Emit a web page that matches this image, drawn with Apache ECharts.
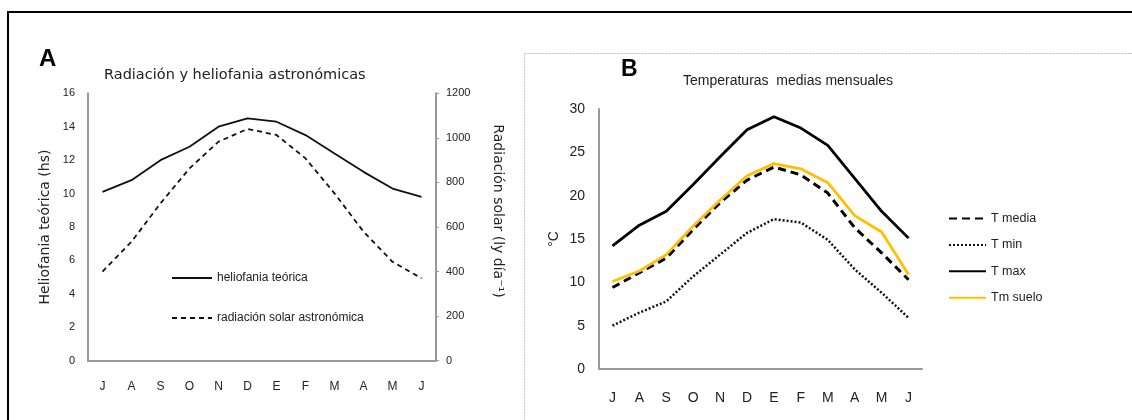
<!DOCTYPE html>
<html>
<head>
<meta charset="utf-8">
<script src="https://cdn.jsdelivr.net/npm/echarts@6/dist/echarts.min.js"></script>
<style>
  html, body { margin: 0; padding: 0; background: #fff; }
  #chart { width: 1132px; height: 420px; }
</style>
</head>
<body>
<div id="chart"></div>
<script>
// meses (julio a junio)
const months = ['J', 'A', 'S', 'O', 'N', 'D', 'E', 'F', 'M', 'A', 'M', 'J']

// panel A
const helioTicks = [0, 2, 4, 6, 8, 10, 12, 14, 16]
const radTicks = [0, 200, 400, 600, 800, 1000, 1200]
const heliofania = [10.1, 10.8, 12.0, 12.8, 14.0, 14.5, 14.3, 13.5, 12.4, 11.3, 10.3, 9.8]
const radiacion = [400, 534, 706, 863, 983, 1040, 1013, 908, 751, 579, 444, 370]

// panel B
const tempTicks = [0, 5, 10, 15, 20, 25, 30]
const tMedia = [9.4, 11.1, 12.8, 16.1, 19.2, 21.8, 23.3, 22.4, 20.3, 16.3, 13.4, 10.3]
const tMin = [5.0, 6.5, 7.8, 10.7, 13.2, 15.7, 17.3, 16.9, 14.9, 11.5, 8.8, 5.9]
const tMax = [14.2, 16.6, 18.2, 21.3, 24.5, 27.6, 29.1, 27.8, 25.8, 22.0, 18.2, 15.1]
const tSuelo = [10.1, 11.3, 13.2, 16.5, 19.5, 22.3, 23.7, 23.1, 21.5, 17.7, 15.8, 10.9]

const narrow = "'Liberation Sans Narrow', 'Liberation Sans', Arial, sans-serif"
const arial = "'Liberation Sans', Arial, sans-serif"
const dejavu = "'DejaVu Sans', sans-serif"

let chart = echarts.init(document.getElementById('chart'))

let option = {
  animation: false,
  backgroundColor: '#fff',
  graphic: [
    { // marco exterior
      type: 'rect',
      shape: { x: 8, y: 12, width: 1200, height: 500 },
      style: { fill: 'none', stroke: '#000', lineWidth: 2 }
    },
    { // marco panel B
      type: 'rect',
      shape: { x: 524.5, y: 53.5, width: 700, height: 500 },
      style: { fill: 'none', stroke: '#bdbdbd', lineWidth: 1, lineDash: [2, 1] }
    },
    {
      type: 'text', left: 39, top: 47,
      style: { text: 'A', font: 'bold 24px ' + arial, fill: '#000' }
    },
    {
      type: 'text', left: 621, top: 58,
      style: { text: 'B', font: 'bold 23px ' + arial, fill: '#000' }
    }
  ],
  title: [
    {
      text: 'Radiación y heliofania astronómicas',
      left: 99, top: 63,
      textStyle: { fontSize: 14.5, fontWeight: 'normal', color: '#222', fontFamily: dejavu }
    },
    {
      text: 'Temperaturas  medias mensuales',
      left: 678, top: 69,
      textStyle: { fontSize: 14, fontWeight: 'normal', color: '#222', fontFamily: arial }
    }
  ],
  legend: [
    {
      orient: 'vertical',
      left: 166, top: 267,
      itemWidth: 40, itemHeight: 10, itemGap: 28,
      itemStyle: { opacity: 0 },
      data: ['heliofania teórica', 'radiación solar astronómica'],
      textStyle: { fontSize: 12, color: '#222', fontFamily: narrow }
    },
    {
      orient: 'vertical',
      left: 943, top: 207,
      itemWidth: 37, itemHeight: 12, itemGap: 13.4,
      itemStyle: { opacity: 0 },
      data: ['T media', 'T min', 'T max', 'Tm suelo'],
      textStyle: { fontSize: 12.5, color: '#222', fontFamily: arial }
    }
  ],
  grid: [
    { left: 88, top: 93.3, right: 696, bottom: 59.3 },
    { left: 599, top: 109, right: 210, bottom: 51 }
  ],
  xAxis: [
    {
      type: 'category', gridIndex: 0, data: months, boundaryGap: true,
      axisLine: { lineStyle: { color: '#999', width: 2 } },
      axisTick: { show: false },
      axisLabel: { margin: 20, fontSize: 12, color: '#222', fontFamily: arial, interval: 0 }
    },
    {
      type: 'category', gridIndex: 1, data: months, boundaryGap: true,
      axisLine: { lineStyle: { color: '#999', width: 2 } },
      axisTick: { show: false },
      axisLabel: { margin: 22, fontSize: 14, color: '#222', fontFamily: arial, interval: 0 }
    }
  ],
  yAxis: [
    {
      type: 'value', gridIndex: 0,
      min: helioTicks[0], max: helioTicks[helioTicks.length - 1], interval: 2,
      name: 'Heliofania teórica (hs)', nameLocation: 'middle', nameGap: 36,
      nameTextStyle: { fontSize: 14, color: '#222', fontFamily: dejavu },
      axisLine: { show: true, lineStyle: { color: '#999', width: 2 } },
      axisTick: { show: false },
      splitLine: { show: false },
      axisLabel: { margin: 13, fontSize: 11, color: '#222', fontFamily: narrow }
    },
    {
      type: 'value', gridIndex: 0, position: 'right',
      min: radTicks[0], max: radTicks[radTicks.length - 1], interval: 200,
      name: 'Radiación solar (ly día⁻¹)', nameLocation: 'middle', nameGap: 55, nameRotate: -90,
      nameTextStyle: { fontSize: 14, color: '#222', fontFamily: dejavu, padding: [0, 32, 0, 0] },
      axisLine: { show: true, lineStyle: { color: '#999', width: 2 } },
      axisTick: { show: true, length: 3, lineStyle: { color: '#999' } },
      splitLine: { show: false },
      axisLabel: { margin: 10, fontSize: 11, color: '#222', fontFamily: narrow, formatter: v => String(v) }
    },
    {
      type: 'value', gridIndex: 1,
      min: tempTicks[0], max: tempTicks[tempTicks.length - 1], interval: 5,
      name: '°C', nameLocation: 'middle', nameGap: 38,
      nameTextStyle: { fontSize: 14, color: '#222', fontFamily: arial },
      axisLine: { show: true, lineStyle: { color: '#999', width: 2 } },
      axisTick: { show: false },
      splitLine: { show: false },
      axisLabel: { margin: 14, fontSize: 14, color: '#222', fontFamily: arial }
    }
  ],
  series: [
    {
      name: 'heliofania teórica', type: 'line', xAxisIndex: 0, yAxisIndex: 0,
      data: heliofania, symbol: 'none',
      lineStyle: { color: '#111', width: 1.8, type: 'solid' }, itemStyle: { color: '#111' }
    },
    {
      name: 'radiación solar astronómica', type: 'line', xAxisIndex: 0, yAxisIndex: 1,
      data: radiacion, symbol: 'none',
      lineStyle: { color: '#111', width: 1.8, type: [5, 4] }, itemStyle: { color: '#111' }
    },
    {
      name: 'T media', type: 'line', xAxisIndex: 1, yAxisIndex: 2,
      data: tMedia, symbol: 'none',
      lineStyle: { color: '#000', width: 3, type: [8, 5] }, itemStyle: { color: '#000' }
    },
    {
      name: 'T min', type: 'line', xAxisIndex: 1, yAxisIndex: 2,
      data: tMin, symbol: 'none',
      lineStyle: { color: '#111', width: 2.5, type: [2, 2] }, itemStyle: { color: '#111' }
    },
    {
      name: 'T max', type: 'line', xAxisIndex: 1, yAxisIndex: 2,
      data: tMax, symbol: 'none',
      lineStyle: { color: '#000', width: 2.8 }, itemStyle: { color: '#000' }
    },
    {
      name: 'Tm suelo', type: 'line', xAxisIndex: 1, yAxisIndex: 2,
      data: tSuelo, symbol: 'none',
      lineStyle: { color: '#FFC000', width: 2.8 }, itemStyle: { color: '#FFC000' }
    }
  ]
}

chart.setOption(option)
window.addEventListener('resize', () => chart.resize())
</script>
</body>
</html>
